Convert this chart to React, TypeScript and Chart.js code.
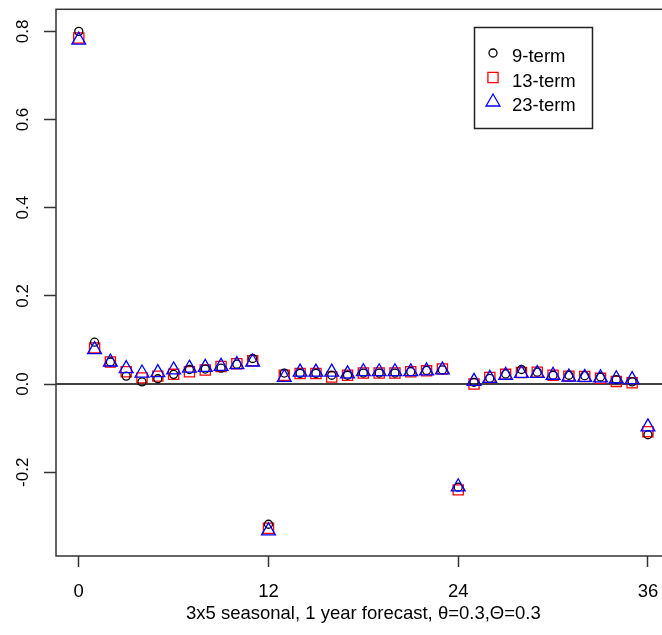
import React, { useEffect, useRef } from "react";
import { Chart, registerables } from "chart.js";
import { drawPoint } from "chart.js/helpers";

Chart.register(...registerables);

// lag index on the x axis
const lags = [
    0, 1, 2, 3, 4, 5, 6, 7, 8, 9, 10, 11, 12, 13, 14, 15, 16, 17, 18,
    19, 20, 21, 22, 23, 24, 25, 26, 27, 28, 29, 30, 31, 32, 33, 34, 35, 36,
];

const nineTerm = [
    0.8, 0.095, 0.05, 0.018, 0.005, 0.012, 0.022, 0.033, 0.034, 0.036, 0.045, 0.058,
    -0.318, 0.025, 0.024, 0.024, 0.02, 0.02, 0.025, 0.025, 0.025, 0.028, 0.031, 0.032,
    -0.234, 0.004, 0.013, 0.023, 0.033, 0.027, 0.02, 0.02, 0.019, 0.016, 0.01, 0.005,
    -0.115,
];

const thirteenTerm = [
    0.785, 0.082, 0.05, 0.028, 0.014, 0.018, 0.022, 0.028, 0.032, 0.04, 0.046, 0.053,
    -0.327, 0.02, 0.024, 0.024, 0.016, 0.02, 0.025, 0.025, 0.025, 0.028, 0.03, 0.034,
    -0.24, 0.0, 0.015, 0.022, 0.026, 0.027, 0.02, 0.018, 0.017, 0.013, 0.006, 0.003,
    -0.108,
];

const twentyThreeTerm = [
    0.78, 0.078, 0.05, 0.035, 0.025, 0.026, 0.032, 0.036, 0.038, 0.04, 0.044, 0.05,
    -0.333, 0.015, 0.027, 0.027, 0.027, 0.023, 0.028, 0.028, 0.028, 0.028, 0.03, 0.032,
    -0.233, 0.006, 0.013, 0.02, 0.024, 0.024, 0.02, 0.016, 0.015, 0.014, 0.012, 0.01,
    -0.097,
];

const xTicks = [0, 12, 24, 36];
const yTicks = [-0.2, 0, 0.2, 0.4, 0.6, 0.8];
const yTickLabels = ["-0.2", "0.0", "0.2", "0.4", "0.6", "0.8"];
const legendLabels = ["9-term", "13-term", "23-term"];
const xTitle = "3x5 seasonal, 1 year forecast, \u03b8=0.3,\u0398=0.3";

const FONT = "'Liberation Sans', Arial, sans-serif";

const toPoints = (vals: number[]) => lags.map((x, i) => ({ x, y: vals[i] }));

// R-style frame, rotated y labels and the boxed legend
const rStylePlugin = {
    id: "rStyle",
    afterDraw(chart: any) {
        const { ctx, chartArea, scales } = chart;
        ctx.save();

        // plot frame
        ctx.strokeStyle = "#333";
        ctx.lineWidth = 1.5;
        ctx.strokeRect(chartArea.left, chartArea.top, chartArea.right - chartArea.left, chartArea.bottom - chartArea.top);

        // y tick labels, reading upwards
        ctx.fillStyle = "#000";
        ctx.font = `17px ${FONT}`;
        ctx.textAlign = "center";
        ctx.textBaseline = "middle";
        yTicks.forEach((v, i) => {
            const py = scales.y.getPixelForValue(v);
            ctx.save();
            ctx.translate(23, py);
            ctx.rotate(-Math.PI / 2);
            ctx.fillText(yTickLabels[i], 0, 0);
            ctx.restore();
        });

        // legend
        ctx.strokeStyle = "#222";
        ctx.lineWidth = 1.5;
        ctx.strokeRect(474.5, 27.5, 118, 101);
        ctx.font = `18.5px ${FONT}`;
        ctx.textAlign = "left";
        legendLabels.forEach((label, i) => {
            const ds = chart.data.datasets[i];
            const rowY = 53 + i * 24.5;
            ctx.strokeStyle = ds.borderColor;
            ctx.fillStyle = "rgba(0,0,0,0)";
            ctx.lineWidth = 1.3;
            drawPoint(ctx, { pointStyle: ds.pointStyle, rotation: 0, radius: ds.pointRadius, borderWidth: 1.3 } as any, 493, rowY);
            ctx.fillStyle = "#000";
            ctx.fillText(label, 512, rowY + 4);
        });

        ctx.restore();
    },
};

export default function App() {
    const canvasRef = useRef<HTMLCanvasElement | null>(null);
    const chartRef = useRef<Chart | null>(null);

    useEffect(() => {
        document.body.style.margin = "0";
        if (!canvasRef.current) return;
        const ctx = canvasRef.current.getContext("2d");
        if (!ctx) return;

        if (chartRef.current) {
            chartRef.current.destroy();
        }

        chartRef.current = new Chart(ctx, {
            type: "scatter",
            data: {
                datasets: [
                    {
                        label: legendLabels[0],
                        data: toPoints(nineTerm),
                        pointStyle: "circle",
                        pointRadius: 4,
                        borderColor: "#000000",
                        backgroundColor: "rgba(0,0,0,0)",
                        borderWidth: 1.3,
                        order: 1,
                    },
                    {
                        label: legendLabels[1],
                        data: toPoints(thirteenTerm),
                        pointStyle: "rect",
                        pointRadius: 7.2,
                        borderColor: "#ff0000",
                        backgroundColor: "rgba(0,0,0,0)",
                        borderWidth: 1.3,
                        order: 2,
                    },
                    {
                        label: legendLabels[2],
                        data: toPoints(twentyThreeTerm),
                        pointStyle: "triangle",
                        pointRadius: 8,
                        borderColor: "#0000ff",
                        backgroundColor: "rgba(0,0,0,0)",
                        borderWidth: 1.3,
                        order: 0,
                    },
                    {
                        // abline(h = 0)
                        type: "line",
                        label: "zero",
                        data: [
                            { x: -5, y: 0 },
                            { x: 45, y: 0 },
                        ],
                        borderColor: "#000000",
                        borderWidth: 1.5,
                        pointRadius: 0,
                        order: 5,
                    } as any,
                ],
            },
            options: {
                animation: false,
                responsive: false,
                events: [],
                layout: {
                    padding: { top: 8, right: 8, left: 0, bottom: 0 },
                },
                plugins: {
                    legend: { display: false },
                    tooltip: { enabled: false },
                    title: { display: false },
                },
                scales: {
                    x: {
                        type: "linear",
                        min: -1.44,
                        max: 37.44,
                        afterBuildTicks: (scale: any) => {
                            scale.ticks = xTicks.map((v) => ({ value: v }));
                        },
                        afterFit: (scale: any) => {
                            scale.height = 79;
                        },
                        border: { display: false },
                        grid: {
                            drawOnChartArea: false,
                            drawTicks: true,
                            tickLength: 11,
                            tickColor: "#333",
                            tickWidth: 1.5,
                        },
                        ticks: {
                            color: "#000",
                            padding: 14,
                            font: { family: FONT, size: 18.5 },
                            callback: (v: any) => String(v),
                        },
                        title: {
                            display: true,
                            text: xTitle,
                            color: "#000",
                            font: { family: FONT, size: 18.5 },
                            padding: { top: 0, bottom: 9.5 },
                        },
                    },
                    y: {
                        type: "linear",
                        min: -0.39,
                        max: 0.85,
                        afterBuildTicks: (scale: any) => {
                            scale.ticks = yTicks.map((v) => ({ value: v }));
                        },
                        afterFit: (scale: any) => {
                            scale.width = 56;
                        },
                        border: { display: false },
                        grid: {
                            drawOnChartArea: false,
                            drawTicks: true,
                            tickLength: 12,
                            tickColor: "#333",
                            tickWidth: 1.5,
                        },
                        ticks: {
                            display: false,
                        },
                    },
                },
            },
            plugins: [rStylePlugin],
        });

        return () => {
            chartRef.current?.destroy();
            chartRef.current = null;
        };
    }, []);

    return (
        <div style={{ width: 662, height: 635, overflow: "hidden", background: "#fff" }}>
            <canvas ref={canvasRef} width={680} height={635} style={{ display: "block" }}></canvas>
        </div>
    );
}
